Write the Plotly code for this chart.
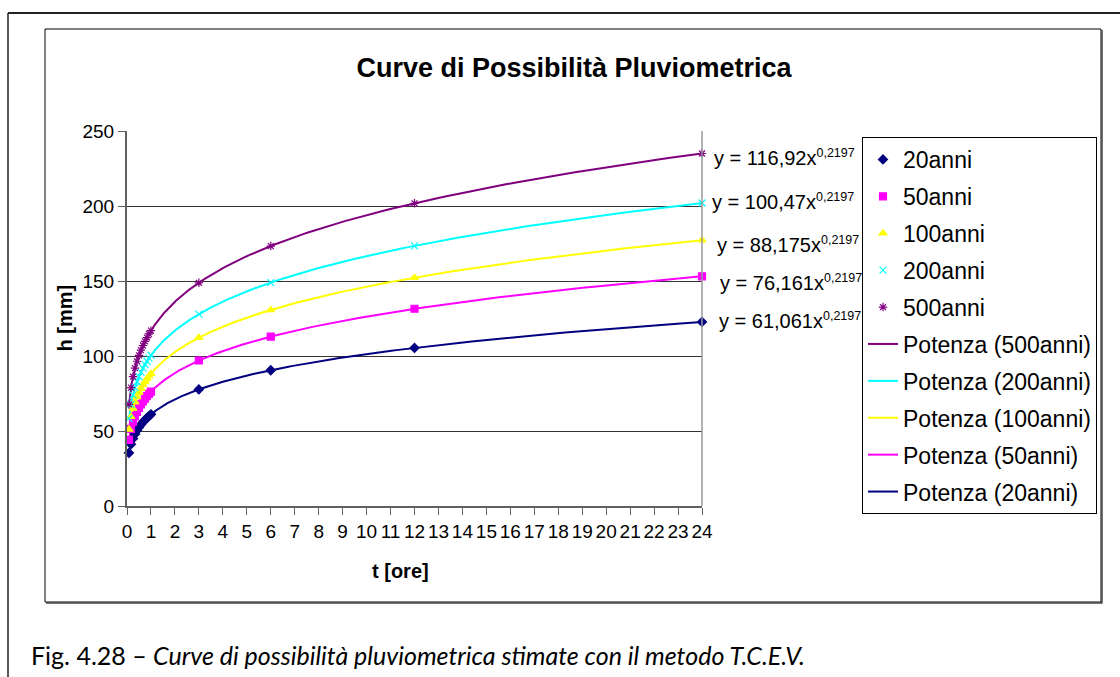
import numpy as np
import plotly.graph_objects as go

# Durations (hours): 5-minute steps up to 1 h, then 3, 6, 12, 24 h
durate = [0.083, 0.167, 0.25, 0.333, 0.417, 0.5, 0.583, 0.667, 0.75, 0.833, 0.917, 1, 3, 6, 12, 24]

h_20 = [35.4, 41.2, 45.0, 48.0, 50.4, 52.4, 54.2, 55.9, 57.3, 58.7, 59.9, 61.1, 77.7, 90.5, 105.4, 122.7]
h_50 = [44.1, 51.4, 56.2, 59.8, 62.8, 65.4, 67.7, 69.7, 71.5, 73.2, 74.7, 76.2, 97.0, 112.9, 131.5, 153.1]
h_100 = [51.1, 59.5, 65.0, 69.3, 72.8, 75.7, 78.3, 80.7, 82.8, 84.7, 86.5, 88.2, 112.3, 130.7, 152.2, 177.3]
h_200 = [58.2, 67.8, 74.1, 78.9, 82.9, 86.3, 89.3, 91.9, 94.3, 96.5, 98.6, 100.5, 127.9, 148.9, 173.4, 202.0]
h_500 = [67.7, 78.9, 86.2, 91.9, 96.5, 100.4, 103.9, 107.0, 109.8, 112.3, 114.7, 116.9, 148.8, 173.3, 201.8, 235.0]

# Power trendline coefficients y = a * x^b
coeff_a = {"20anni": 61.061, "50anni": 76.161, "100anni": 88.175, "200anni": 100.47, "500anni": 116.92}
coeff_a_txt = {"20anni": "61,061", "50anni": "76,161", "100anni": "88,175", "200anni": "100,47", "500anni": "116,92"}
esponente = 0.2197
esponente_txt = "0,2197"

serie = ["20anni", "50anni", "100anni", "200anni", "500anni"]
valori = {"20anni": h_20, "50anni": h_50, "100anni": h_100, "200anni": h_200, "500anni": h_500}
colori = {"20anni": "#000080", "50anni": "#FF00FF", "100anni": "#FFFF00",
          "200anni": "#00FFFF", "500anni": "#800080"}
simboli = {"20anni": "diamond", "50anni": "square", "100anni": "triangle-up",
           "200anni": "x-thin-open", "500anni": "asterisk-open"}
dim_simboli = {"20anni": 7, "50anni": 7, "100anni": 7, "200anni": 7, "500anni": 7}

W, H = 1120, 677
L, R, T, B = 127, 702, 131, 506
FONT = "Liberation Sans, Arial, sans-serif"


def px(xp):
    return (xp - L) / (R - L)


def py(yp):
    return (B - yp) / (B - T)


fig = go.Figure()

# Trendlines (drawn beneath the markers)
t_fit = np.geomspace(durate[0], durate[-1], 300)
for rank, s in zip(range(6, 11), ["500anni", "200anni", "100anni", "50anni", "20anni"]):
    fig.add_trace(go.Scatter(
        x=t_fit, y=coeff_a[s] * t_fit ** esponente, mode="lines",
        line=dict(color=colori[s], width=2),
        name=f"Potenza ({s})", legendrank=rank, legendgroup=f"pot_{s}",
        hoverinfo="skip"))

for rank, s in enumerate(serie, start=1):
    fig.add_trace(go.Scatter(
        x=durate, y=valori[s], mode="markers", cliponaxis=False,
        marker=dict(symbol=simboli[s], size=dim_simboli[s], color=colori[s],
                    line=dict(color=colori[s], width=1.2)),
        name=s, legendrank=rank, legendgroup=f"dati_{s}"))

# Trendline equation labels
pos_eq = {"500anni": (712, 157), "200anni": (710, 201), "100anni": (715, 244),
          "50anni": (718, 282), "20anni": (717, 320)}
annotations = []
for s in serie:
    xp, yp = pos_eq[s]
    annotations.append(dict(
        x=px(xp), y=py(yp), xref="paper", yref="paper", xanchor="left", yanchor="middle",
        showarrow=False,
        text=f"y = {coeff_a_txt[s]}x<sup><span style='font-size:12.5px'>{esponente_txt}</span></sup>",
        font=dict(family=FONT, size=20, color="black")))

# Axis titles
annotations.append(dict(x=px(64), y=0.5, xref="paper", yref="paper", textangle=-90,
                        xanchor="center", yanchor="middle",
                        showarrow=False, text="<b>h [mm]</b>",
                        font=dict(family=FONT, size=20, color="black")))
annotations.append(dict(x=px(400), y=py(571), xref="paper", yref="paper",
                        xanchor="center", yanchor="middle",
                        showarrow=False, text="<b>t [ore]</b>",
                        font=dict(family=FONT, size=20, color="black")))

# Caption
annotations.append(dict(x=px(29), y=py(655), xref="paper", yref="paper",
                        xanchor="left", yanchor="middle", showarrow=False,
                        text="Fig. 4.28 – <i>Curve di possibilità pluviometrica stimate con il metodo T.C.E.V.</i>",
                        font=dict(family="Lato, sans-serif", size=25, color="black")))

shapes = [
    # outer frame (top and left edges)
    dict(type="line", xref="paper", yref="paper", x0=px(8), x1=px(1125), y0=py(13), y1=py(13),
         line=dict(color="#222222", width=2)),
    dict(type="line", xref="paper", yref="paper", x0=px(8), x1=px(8), y0=py(13), y1=py(690),
         line=dict(color="#222222", width=1.5)),
    # chart frame
    dict(type="rect", xref="paper", yref="paper", x0=px(45), x1=px(1101), y0=py(29), y1=py(602),
         line=dict(color="black", width=1)),
    dict(type="line", xref="paper", yref="paper", x0=px(1102), x1=px(1102), y0=py(30), y1=py(603.5),
         line=dict(color="#444444", width=1.5)),
    dict(type="line", xref="paper", yref="paper", x0=px(46), x1=px(1102), y0=py(603), y1=py(603),
         line=dict(color="#444444", width=1.5)),
    # plot area right border
    dict(type="line", xref="paper", yref="paper", x0=1, x1=1, y0=0, y1=1,
         line=dict(color="#9a9a9a", width=1.5)),
]

fig.update_layout(
    width=W, height=H,
    margin=dict(l=L, r=W - R, t=T, b=H - B, pad=0),
    paper_bgcolor="white", plot_bgcolor="white",
    font=dict(family=FONT, color="black"),
    title=dict(text="<b>Curve di Possibilità Pluviometrica</b>",
               x=574 / W, xanchor="center", y=1 - 68 / H, yanchor="middle",
               font=dict(family=FONT, size=27, color="black")),
    showlegend=True,
    legend=dict(x=px(862), y=py(137), xanchor="left", yanchor="top",
                bordercolor="black", borderwidth=1, bgcolor="white",
                font=dict(family=FONT, size=23, color="black"),
                traceorder="grouped", tracegroupgap=4, itemwidth=30,
                maxheight=600),
    annotations=annotations,
    shapes=shapes,
)

fig.update_xaxes(range=[0, 24], tickmode="linear", tick0=0, dtick=1,
                 showgrid=False, zeroline=False,
                 showline=True, linecolor="#606060", linewidth=1.5,
                 ticks="outside", ticklen=7, tickcolor="#606060", tickwidth=1.2,
                 tickfont=dict(family=FONT, size=19, color="black"))
fig.update_yaxes(range=[0, 250], tickmode="linear", tick0=0, dtick=50,
                 showgrid=True, gridcolor="#333333", gridwidth=1, zeroline=False,
                 showline=True, linecolor="#606060", linewidth=2,
                 ticks="outside", ticklen=7, tickcolor="#606060", tickwidth=1.2,
                 tickfont=dict(family=FONT, size=19, color="black"))

fig.write_html("out.html")
